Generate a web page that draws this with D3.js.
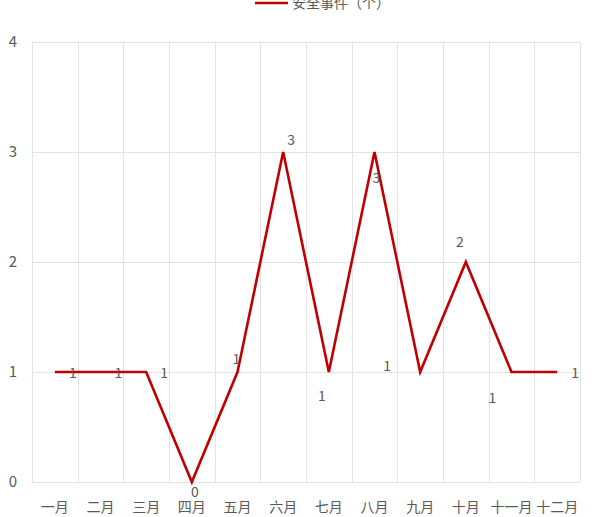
<!DOCTYPE html>
<html><head><meta charset="utf-8">
<script src="https://cdn.jsdelivr.net/npm/d3@7"></script>
<style>body{margin:0;background:#fff}svg{display:block}text{font-family:"Noto Sans CJK SC","Noto Sans",sans-serif}</style>
</head><body><svg id="c" width="600" height="517"></svg>
<script>
const months = ["一月","二月","三月","四月","五月","六月","七月","八月","九月","十月","十一月","十二月"];
const incidents = [1,1,1,0,1,3,1,3,1,2,1,1];
const yTicks = [0,1,2,3,4];
const seriesName = "安全事件（个）";
// label placement offsets (style only)
const labelPos = [[18,1],[18,1],[18,1],[3,10],[-1,-13],[8,-12],[-7,24],[2,26],[-33,-6],[-6,-20],[-19,26],[18,1]];

const svg = d3.select("#c");
const m = {l:32, r:20, t:42, b:35};
const W = 600, H = 517;
const x = d3.scaleBand().domain(months).range([m.l, W-m.r]).padding(0);
const y = d3.scaleLinear().domain([0,4]).range([H-m.b, m.t]);

// horizontal grid
svg.append("g").selectAll("line").data(yTicks).join("line")
  .attr("x1", m.l).attr("x2", W-m.r)
  .attr("y1", d=>y(d)+0.5).attr("y2", d=>y(d)+0.5)
  .attr("stroke", "#e3e3e3").attr("stroke-width",1);
// vertical grid at band edges
const edges = months.map(d=>x(d)).concat([x(months[months.length-1])+x.bandwidth()]);
svg.append("g").selectAll("line").data(edges).join("line")
  .attr("x1", d=>Math.round(d)+0.5).attr("x2", d=>Math.round(d)+0.5)
  .attr("y1", m.t).attr("y2", H-m.b)
  .attr("stroke", "#e3e3e3").attr("stroke-width",1);

// y axis labels
svg.append("g").selectAll("text").data(yTicks).join("text")
  .attr("x", 13).attr("y", d=>y(d)).attr("dy","0.35em")
  .attr("text-anchor","middle").attr("font-size",15).attr("fill","#595959")
  .text(d=>d);
// x axis labels
svg.append("g").selectAll("text").data(months).join("text")
  .attr("x", d=>x(d)+x.bandwidth()/2).attr("y", H-m.b+30)
  .attr("text-anchor","middle").attr("font-size",14).attr("fill","#595959")
  .text(d=>d);

// line
const pts = months.map((mo,i)=>[x(mo)+x.bandwidth()/2, y(incidents[i])]);
svg.append("path").attr("d", d3.line()(pts))
  .attr("fill","none").attr("stroke","#c00000").attr("stroke-width",2.6)
  .attr("stroke-linejoin","miter");

// data labels
svg.append("g").selectAll("text").data(incidents).join("text")
  .attr("x", (d,i)=>pts[i][0]+labelPos[i][0])
  .attr("y", (d,i)=>pts[i][1]+labelPos[i][1]).attr("dy","0.35em")
  .attr("text-anchor","middle").attr("font-size",14).attr("fill","#595959")
  .text(d=>d);

// legend
svg.append("line").attr("x1",255).attr("x2",288).attr("y1",3).attr("y2",3)
  .attr("stroke","#c00000").attr("stroke-width",2.6);
svg.append("text").attr("x",292).attr("y",3).attr("dy","0.35em")
  .attr("font-size",14).attr("fill","#595959").text(seriesName);
</script></body></html>
